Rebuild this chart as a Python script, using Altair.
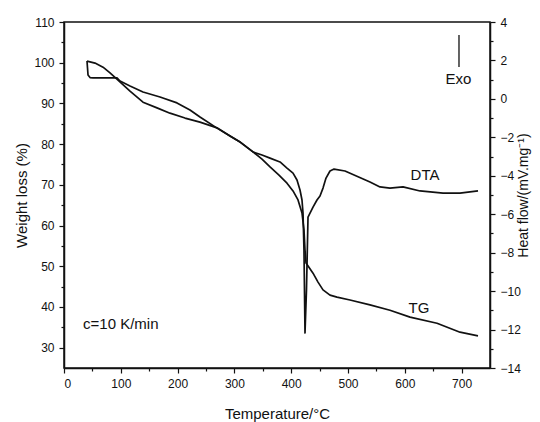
import altair as alt
import pandas as pd

# ---- data ----
tg_temp = [40.5, 54.6, 68.7, 81.0, 95.1, 116.2, 139.1, 163.7, 186.6, 213.0, 239.4, 269.4,
           292.3, 309.9, 332.7, 348.6, 362.7, 378.5, 392.6, 403.2, 412.0, 419.0, 422.5,
           424.3, 426.1, 438.4, 447.2, 456.0, 468.3, 480.6, 503.5, 538.7, 573.9, 609.2,
           656.7, 697.2, 728.9]
tg_weight = [100.4, 99.9, 98.9, 97.5, 95.7, 93.0, 90.3, 88.9, 87.6, 86.4, 85.4, 84.0,
             82.0, 80.5, 78.1, 76.3, 74.4, 72.4, 70.4, 68.5, 66.3, 63.1, 58.9,
             54.0, 50.8, 48.3, 46.1, 44.2, 42.9, 42.4, 41.7, 40.5, 39.2, 37.5,
             36.0, 33.8, 32.9]

dta_temp = [40.5, 41.4, 42.3, 45.8, 51.1, 72.2, 93.3, 98.6, 116.2, 139.1, 169.0, 198.9,
            221.8, 239.4, 269.4, 292.3, 309.9, 332.7, 348.6, 362.7, 380.3, 392.6, 403.2,
            410.2, 415.5, 419.0, 420.8, 422.5, 424.3, 426.9, 429.6, 438.4, 445.4, 450.7,
            456.0, 461.3, 468.3, 475.4, 494.7, 538.7, 556.3, 573.9, 596.8, 626.8, 667.3,
            697.2, 728.9]
dta_heat = [1.97, 1.61, 1.24, 1.11, 1.09, 1.09, 1.09, 0.93, 0.67, 0.36, 0.10, -0.21,
            -0.58, -0.94, -1.52, -1.93, -2.24, -2.76, -2.92, -3.08, -3.28, -3.60, -3.86,
            -4.22, -4.74, -5.26, -5.94, -7.86, -12.18, -9.94, -6.15, -5.63, -5.26, -5.05,
            -4.64, -4.12, -3.75, -3.65, -3.75, -4.32, -4.58, -4.64, -4.58, -4.79, -4.90,
            -4.90, -4.79]

x_ticks = [0, 100, 200, 300, 400, 500, 600, 700]
x_minor = [50, 150, 250, 350, 450, 550, 650]
left_ticks = [30, 40, 50, 60, 70, 80, 90, 100, 110]
left_minor = [35, 45, 55, 65, 75, 85, 95, 105]
right_ticks = [-14, -12, -10, -8, -6, -4, -2, 0, 2, 4]
right_minor = [-13, -11, -9, -7, -5, -3, -1, 1, 3]

x_domain = [0, 750]
left_domain = [25, 110]
right_domain = [-14, 4]

tg_note_text = ["TG"]
tg_note_temp = [625]
tg_note_weight = [39.7]
rate_text = ["c=10 K/min"]
rate_temp = [33.5]
rate_weight = [35.8]
dta_note_text = ["DTA", "Exo"]
dta_note_temp = [635.6, 694.5]
dta_note_heat = [-3.98, 1.03]
exo_temp = [695.4]
exo_top = [3.32]
exo_bottom = [1.66]

# ---- tables ----
tg_df = pd.DataFrame({"T": tg_temp, "V": tg_weight, "i": range(len(tg_temp))})
dta_df = pd.DataFrame({"T": dta_temp, "V": dta_heat, "i": range(len(dta_temp))})
tg_note_df = pd.DataFrame({"T": tg_note_temp, "V": tg_note_weight, "s": tg_note_text})
rate_df = pd.DataFrame({"T": rate_temp, "V": rate_weight, "s": rate_text})
dta_note_df = pd.DataFrame({"T": dta_note_temp, "V": dta_note_heat, "s": dta_note_text})
exo_df = pd.DataFrame({"T": exo_temp, "V": exo_top, "V2": exo_bottom})
dummy_df = pd.DataFrame({"T": [x_domain[0]], "V": [left_domain[0]], "R": [right_domain[0]]})

FONT = "Liberation Sans"
INK = "#111111"


def xs(axis=None):
    sc = alt.Scale(domain=x_domain, nice=False, zero=False)
    if axis is None:
        return alt.X("T:Q", scale=sc, axis=None)
    return alt.X("T:Q", scale=sc, axis=axis)


def ys(field, domain, axis=None):
    sc = alt.Scale(domain=domain, nice=False, zero=False)
    if axis is None:
        return alt.Y(field, scale=sc, axis=None)
    return alt.Y(field, scale=sc, axis=axis)


x_axis_major = alt.Axis(orient="bottom", values=x_ticks, tickSize=5, labelPadding=5,
                        title="Temperature/°C", titleX=213, titleY=45,
                        titleAlign="center", titleBaseline="middle", format="d")
left_axis_major = alt.Axis(orient="left", values=left_ticks, tickSize=5, labelPadding=5,
                           title="Weight loss (%)", titleX=-43, titleY=173, titleAngle=270,
                           titleAlign="center", titleBaseline="middle", format="d")
right_axis_major = alt.Axis(orient="right", values=right_ticks, tickSize=5, labelPadding=5,
                            title="Heat flow/(mV.mg⁻¹)", titleX=33, titleY=173, titleAngle=270,
                            titleAlign="center", titleBaseline="middle", titleFontSize=14,
                            format="d")
x_axis_minor = alt.Axis(orient="bottom", values=x_minor, tickSize=3, labels=False,
                        domain=False, title=None)
left_axis_minor = alt.Axis(orient="left", values=left_minor, tickSize=3, labels=False,
                           domain=False, title=None)
right_axis_minor = alt.Axis(orient="right", values=right_minor, tickSize=3, labels=False,
                            domain=False, title=None)

tg_line = alt.Chart(tg_df).mark_line(color=INK, strokeWidth=1.7, strokeJoin="round").encode(
    x=xs(x_axis_major), y=ys("V:Q", left_domain, left_axis_major), order="i:Q")

dta_line = alt.Chart(dta_df).mark_line(color=INK, strokeWidth=1.7, strokeJoin="round").encode(
    x=xs(), y=ys("V:Q", right_domain, right_axis_major), order="i:Q")

tg_note = alt.Chart(tg_note_df).mark_text(font=FONT, fontSize=15, color=INK, align="center",
                                          baseline="middle").encode(
    x=xs(), y=ys("V:Q", left_domain), text="s:N")

rate_note = alt.Chart(rate_df).mark_text(font=FONT, fontSize=15, color=INK, align="left",
                                         baseline="middle").encode(
    x=xs(), y=ys("V:Q", left_domain), text="s:N")

dta_note = alt.Chart(dta_note_df).mark_text(font=FONT, fontSize=15, color=INK, align="center",
                                            baseline="middle").encode(
    x=xs(), y=ys("V:Q", right_domain), text="s:N")

exo_rule = alt.Chart(exo_df).mark_rule(color=INK, strokeWidth=1.3).encode(
    x=xs(), y=ys("V:Q", right_domain), y2="V2:Q")

minor_left = alt.Chart(dummy_df).mark_point(opacity=0).encode(
    x=xs(x_axis_minor), y=ys("V:Q", left_domain, left_axis_minor))

minor_right = alt.Chart(dummy_df).mark_point(opacity=0).encode(
    x=xs(), y=ys("R:Q", right_domain, right_axis_minor))

chart = alt.layer(
    tg_line, dta_line, tg_note, rate_note, dta_note, exo_rule, minor_left, minor_right
).resolve_scale(
    x="independent", y="independent"
).properties(
    width=426, height=346,
    autosize=alt.AutoSizeParams(type="none"),
    padding={"left": 56, "top": 14, "right": 42, "bottom": 54},
    background="white",
).configure_view(
    stroke=INK, strokeWidth=1.5
).configure_axis(
    grid=False, domainColor=INK, domainWidth=1.5, tickColor=INK, tickWidth=1.2,
    labelFont=FONT, labelFontSize=12, labelColor=INK,
    titleFont=FONT, titleFontSize=15, titleFontWeight="normal", titleColor=INK,
)

chart.save("out.html", embed_options={"renderer": "svg", "actions": False})
